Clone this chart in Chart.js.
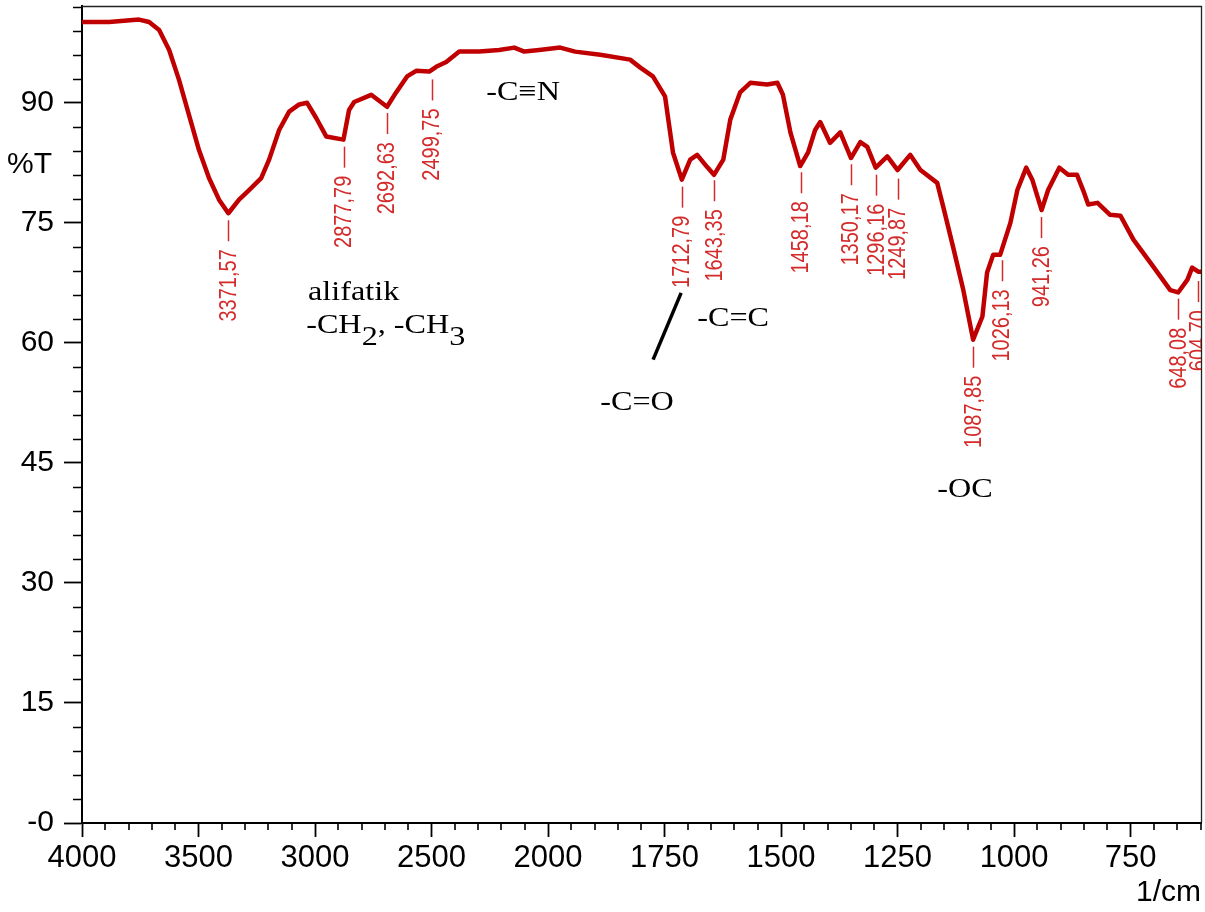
<!DOCTYPE html>
<html>
<head>
<meta charset="utf-8">
<script src="https://cdn.jsdelivr.net/npm/chart.js@4.4.1/dist/chart.umd.min.js"></script>
<style>
  html, body { margin: 0; padding: 0; background: #fff; }
  #wrap { width: 1205px; height: 912px; position: relative; }
</style>
</head>
<body>
<div id="wrap"><canvas id="c" width="1205" height="912"></canvas></div>
<script>
// ---------- DATA ----------
const wavenumbers = [
  4000, 3884, 3755, 3712, 3669, 3626, 3584, 3541, 3498, 3455, 3412, 3372, 3326, 3283, 3231, 3197,
  3154, 3111, 3068, 3034, 2995, 2952, 2878, 2854, 2832, 2759, 2691, 2652, 2605, 2566, 2510, 2480,
  2437, 2381, 2295, 2210, 2145, 2102, 2038, 1974, 1942, 1888, 1824, 1802, 1775, 1749, 1732, 1713,
  1695, 1680, 1659, 1644, 1624, 1609, 1588, 1566, 1530, 1508, 1496, 1480, 1459, 1442, 1427, 1416,
  1395, 1373, 1350, 1330, 1315, 1297, 1272, 1250, 1223, 1201, 1165, 1152, 1131, 1109, 1088, 1068,
  1058, 1045, 1030, 1008, 993, 974, 961, 941, 927, 903, 884, 865, 852, 841, 821, 794,
  772, 744, 701, 665, 648, 628, 618, 605, 599
];
const transmittance = [
  100.1, 100.1, 100.4, 100.1, 99.1, 96.6, 92.9, 88.5, 84.1, 80.6, 77.9, 76.2, 77.9, 79.1, 80.6, 82.9,
  86.6, 88.9, 89.8, 90.0, 88.1, 85.8, 85.4, 89.1, 90.1, 91.0, 89.5, 91.3, 93.3, 94.0, 93.9, 94.5,
  95.1, 96.4, 96.4, 96.6, 96.9, 96.4, 96.6, 96.9, 96.4, 96.0, 95.4, 94.4, 93.3, 90.8, 83.8, 80.4,
  82.9, 83.5, 82.0, 81.0, 82.9, 87.9, 91.3, 92.5, 92.3, 92.5, 91.0, 86.3, 82.1, 83.8, 86.6, 87.6,
  85.0, 86.3, 83.1, 85.1, 84.5, 81.9, 83.3, 81.6, 83.5, 81.6, 80.0, 77.0, 72.0, 66.6, 60.4, 63.3,
  68.8, 71.0, 71.0, 75.0, 79.1, 81.9, 80.4, 76.6, 79.1, 81.9, 81.0, 81.0, 79.1, 77.3, 77.5, 76.0,
  75.9, 72.9, 69.5, 66.6, 66.3, 67.9, 69.4, 68.9, 68.9
];
const xTickValues = [4000, 3500, 3000, 2500, 2000, 1750, 1500, 1250, 1000, 750];
const yTickValues = [0, 15, 30, 45, 60, 75, 90];

const peakWavenumbers = [3371.57, 2877.79, 2692.63, 2499.75, 1712.79, 1643.35, 1458.18, 1350.17, 1296.16, 1249.87, 1087.85, 1026.13, 941.26, 648.08, 604.70];
const peakTexts = ["3371,57", "2877,79", "2692,63", "2499,75", "1712,79", "1643,35", "1458,18", "1350,17", "1296,16", "1249,87", "1087,85", "1026,13", "941,26", "648,08", "604,70"];
const peakAnchorT = [76.2, 85.4, 89.6, 93.8, 80.4, 81.2, 82.2, 83.2, 81.9, 81.4, 60.4, 71.2, 76.6, 66.4, 68.6];

const noteTexts = ["alifatik", "-C\u2261N", "-C=C", "-C=O", "-OC"];
const noteWavenumbers = [3030, 2265, 1680, 1888, 1165];
const noteT = [65.4, 90.4, 62.1, 51.6, 40.75];
// "-CH2, -CH3" annotation anchor
const chNoteWavenumber = 3038, chNoteT = 61.25;
// leader line for -C=O
const leaderWavenumbers = [1714.5, 1774.6];
const leaderT = [66.25, 57.9];

const X_MAX = 4000, X_MIN = 599, X_BREAK = 2000;

// ---------- custom IR scale (2x expansion below 2000 1/cm) ----------
class WavenumberScale extends Chart.LinearScale {
  _t(v) {
    return v >= X_BREAK ? (X_MAX - v) / 500 : (X_MAX - X_BREAK) / 500 + (X_BREAK - v) / 250;
  }
  buildTicks() {
    return xTickValues.map(v => ({ value: v }));
  }
  getPixelForValue(v) {
    if (v === null || v === undefined || isNaN(v)) return NaN;
    return this.getPixelForDecimal(this._t(v) / this._t(X_MIN));
  }
  getValueForPixel(p) {
    const t = this.getDecimalForPixel(p) * this._t(X_MIN);
    const tb = (X_MAX - X_BREAK) / 500;
    return t <= tb ? X_MAX - t * 500 : X_BREAK - (t - tb) * 250;
  }
}
WavenumberScale.id = 'wavenumber';
WavenumberScale.defaults = Chart.LinearScale.defaults;
Chart.register(WavenumberScale);

const RED = '#c00000';
const LABEL_RED = '#d42a2a';
const SANS = '"Liberation Sans", Arial, sans-serif';
const SERIF = '"Liberation Serif", "Times New Roman", serif';

const decorPlugin = {
  id: 'decor',
  afterDraw(chart) {
    const ctx = chart.ctx;
    const xs = chart.scales.x, ys = chart.scales.y;
    const ca = chart.chartArea;
    ctx.save();
    // top & right frame
    ctx.strokeStyle = '#222';
    ctx.lineWidth = 1.3;
    ctx.beginPath();
    ctx.moveTo(ca.left, ca.top + 0.5);
    ctx.lineTo(ca.right + 0.5, ca.top + 0.5);
    ctx.lineTo(ca.right + 0.5, ca.bottom);
    ctx.stroke();

    // minor ticks
    ctx.strokeStyle = '#000';
    ctx.lineWidth = 1.6;
    ctx.beginPath();
    for (let v = 3; v <= 102; v += 3) {
      if (v % 15 === 0) continue;
      const y = Math.round(ys.getPixelForValue(v)) + 0.5;
      ctx.moveTo(ca.left - 9, y); ctx.lineTo(ca.left, y);
    }
    const minors = [];
    for (let v = 3900; v > 2000; v -= 100) minors.push(v);
    for (let v = 1950; v >= 600; v -= 50) minors.push(v);
    minors.forEach(v => {
      if (xTickValues.includes(v)) return;
      const x = Math.round(xs.getPixelForValue(v));
      ctx.moveTo(x, ca.bottom); ctx.lineTo(x, ca.bottom + 7);
    });
    ctx.stroke();

    // axis titles
    ctx.fillStyle = '#000';
    ctx.font = '30px ' + SANS;
    ctx.textBaseline = 'middle';
    ctx.textAlign = 'left';
    ctx.fillText('%T', 7, 165);
    ctx.textAlign = 'right';
    ctx.fillText('1/cm', 1201, 893);

    // peak labels
    ctx.save();
    ctx.beginPath();
    ctx.rect(0, 0, ca.right, chart.height);
    ctx.clip();
    ctx.fillStyle = LABEL_RED;
    ctx.strokeStyle = LABEL_RED;
    ctx.font = '20px ' + SANS;
    peakWavenumbers.forEach((wn, i) => {
      const x = xs.getPixelForValue(wn);
      const y0 = ys.getPixelForValue(peakAnchorT[i]) + 7;
      ctx.lineWidth = 1.5;
      ctx.beginPath();
      ctx.moveTo(Math.round(x) + 0.5, y0);
      ctx.lineTo(Math.round(x) + 0.5, y0 + 21);
      ctx.stroke();
      ctx.save();
      ctx.translate(x, y0 + 29);
      ctx.scale(1.15, 1);
      ctx.rotate(-Math.PI / 2);
      ctx.textAlign = 'right';
      ctx.textBaseline = 'middle';
      ctx.fillText(peakTexts[i], 0, 1);
      ctx.restore();
    });
    ctx.restore();

    // black annotations (serif)
    ctx.fillStyle = '#000';
    ctx.textAlign = 'left';
    ctx.textBaseline = 'alphabetic';
    const drawStretched = (txt, x, y, size) => {
      ctx.save();
      ctx.font = size + 'px ' + SERIF;
      ctx.translate(x, y);
      ctx.scale(1.15, 1);
      ctx.fillText(txt, 0, 0);
      const w = ctx.measureText(txt).width * 1.15;
      ctx.restore();
      return w;
    };
    noteTexts.forEach((t, i) => {
      drawStretched(t, xs.getPixelForValue(noteWavenumbers[i]), ys.getPixelForValue(noteT[i]), 28);
    });
    // -CH2, -CH3 with subscripts
    let cx = xs.getPixelForValue(chNoteWavenumber);
    const cy = ys.getPixelForValue(chNoteT);
    cx += drawStretched('-CH', cx, cy, 28);
    cx += drawStretched('2', cx, cy + 12, 28);
    cx += drawStretched(', -CH', cx, cy, 28);
    drawStretched('3', cx, cy + 12, 28);

    // leader line
    ctx.strokeStyle = '#000';
    ctx.lineWidth = 3.5;
    ctx.beginPath();
    ctx.moveTo(xs.getPixelForValue(leaderWavenumbers[0]), ys.getPixelForValue(leaderT[0]));
    ctx.lineTo(xs.getPixelForValue(leaderWavenumbers[1]), ys.getPixelForValue(leaderT[1]));
    ctx.stroke();
    ctx.restore();
  }
};

new Chart(document.getElementById('c'), {
  type: 'line',
  data: {
    datasets: [{
      data: wavenumbers.map((w, i) => ({ x: w, y: transmittance[i] })),
      borderColor: RED,
      borderWidth: 4.5,
      pointRadius: 0,
      tension: 0,
      fill: false,
      borderJoinStyle: 'round',
      borderCapStyle: 'round'
    }]
  },
  options: {
    responsive: false,
    animation: false,
    events: [],
    layout: { padding: { top: 6, right: 4, left: 0, bottom: 0 } },
    plugins: { legend: { display: false }, tooltip: { enabled: false }, title: { display: false } },
    scales: {
      x: {
        type: 'wavenumber',
        min: X_MIN,
        max: X_MAX,
        afterFit(s) { s.height = 89; s.paddingLeft = 0; s.paddingRight = 0; },
        grid: { drawOnChartArea: false, drawTicks: true, tickLength: 14, tickColor: '#000', tickWidth: 1.8 },
        border: { display: true, color: '#000', width: 2 },
        ticks: {
          autoSkip: false, maxRotation: 0, padding: 3,
          color: '#000', font: { family: SANS, size: 31 },
          callback: (v) => String(v)
        }
      },
      y: {
        type: 'linear',
        min: 0,
        max: 102.1,
        afterFit(s) { s.width = 82; s.paddingTop = 0; s.paddingBottom = 0; },
        afterBuildTicks(s) { s.ticks = yTickValues.map(v => ({ value: v })); },
        grid: { drawOnChartArea: false, drawTicks: true, tickLength: 18, tickColor: '#000', tickWidth: 1.8 },
        border: { display: true, color: '#000', width: 2 },
        ticks: {
          padding: 10, color: '#000', font: { family: SANS, size: 30 },
          callback: (v) => (v === 0 ? '-0' : String(v))
        }
      }
    }
  },
  plugins: [decorPlugin]
});
</script>
</body>
</html>
